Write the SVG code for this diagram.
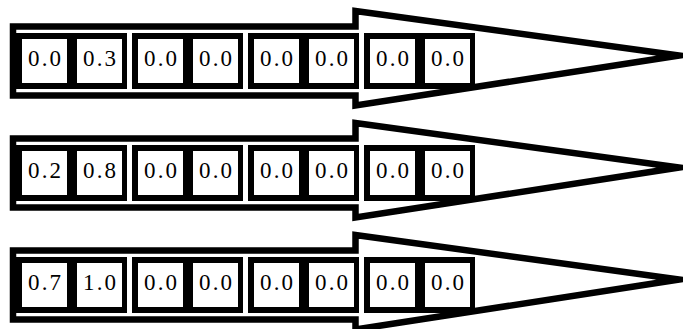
<svg xmlns="http://www.w3.org/2000/svg" xmlns:xlink="http://www.w3.org/1999/xlink" width="683" height="329" viewBox="0 0 683 329">
<style>
.arrow{fill:#fff;stroke:#000;stroke-width:6.5;stroke-linejoin:miter;stroke-miterlimit:10}
.grp{fill:#000}
.cell{fill:#fff}
.v{font-family:"Liberation Serif","Times New Roman",serif;font-size:23px;fill:#000;text-anchor:middle}
</style>
<defs>
<path id="arrowShape" class="arrow" d="M13,26.5 H355.5 V11 L679,55.5 L355.5,105.5 V95.5 H13 Z"/>
<g id="pair">
<rect class="grp" x="0" y="33" width="111" height="56"/>
<rect class="cell" x="6" y="39" width="45" height="44"/>
<rect class="cell" x="61" y="39" width="45" height="44"/>
</g>
</defs>
<rect width="683" height="329" fill="#fff"/>

<g id="row1">
<use xlink:href="#arrowShape"/>
<use xlink:href="#pair" x="16"/>
<use xlink:href="#pair" x="132"/>
<use xlink:href="#pair" x="248"/>
<use xlink:href="#pair" x="364"/>
<g class="v">
<text x="44.5" y="66" textLength="33" lengthAdjust="spacing">0.0</text>
<text x="99.5" y="66" textLength="33" lengthAdjust="spacing">0.3</text>
<text x="160.5" y="66" textLength="33" lengthAdjust="spacing">0.0</text>
<text x="215.5" y="66" textLength="33" lengthAdjust="spacing">0.0</text>
<text x="276.5" y="66" textLength="33" lengthAdjust="spacing">0.0</text>
<text x="331.5" y="66" textLength="33" lengthAdjust="spacing">0.0</text>
<text x="392.5" y="66" textLength="33" lengthAdjust="spacing">0.0</text>
<text x="447.5" y="66" textLength="33" lengthAdjust="spacing">0.0</text>
</g>
</g>

<g id="row2" transform="translate(0,112)">
<use xlink:href="#arrowShape"/>
<use xlink:href="#pair" x="16"/>
<use xlink:href="#pair" x="132"/>
<use xlink:href="#pair" x="248"/>
<use xlink:href="#pair" x="364"/>
<g class="v">
<text x="44.5" y="66" textLength="33" lengthAdjust="spacing">0.2</text>
<text x="99.5" y="66" textLength="33" lengthAdjust="spacing">0.8</text>
<text x="160.5" y="66" textLength="33" lengthAdjust="spacing">0.0</text>
<text x="215.5" y="66" textLength="33" lengthAdjust="spacing">0.0</text>
<text x="276.5" y="66" textLength="33" lengthAdjust="spacing">0.0</text>
<text x="331.5" y="66" textLength="33" lengthAdjust="spacing">0.0</text>
<text x="392.5" y="66" textLength="33" lengthAdjust="spacing">0.0</text>
<text x="447.5" y="66" textLength="33" lengthAdjust="spacing">0.0</text>
</g>
</g>

<g id="row3" transform="translate(0,224)">
<use xlink:href="#arrowShape"/>
<use xlink:href="#pair" x="16"/>
<use xlink:href="#pair" x="132"/>
<use xlink:href="#pair" x="248"/>
<use xlink:href="#pair" x="364"/>
<g class="v">
<text x="44.5" y="66" textLength="33" lengthAdjust="spacing">0.7</text>
<text x="99.5" y="66" textLength="33" lengthAdjust="spacing">1.0</text>
<text x="160.5" y="66" textLength="33" lengthAdjust="spacing">0.0</text>
<text x="215.5" y="66" textLength="33" lengthAdjust="spacing">0.0</text>
<text x="276.5" y="66" textLength="33" lengthAdjust="spacing">0.0</text>
<text x="331.5" y="66" textLength="33" lengthAdjust="spacing">0.0</text>
<text x="392.5" y="66" textLength="33" lengthAdjust="spacing">0.0</text>
<text x="447.5" y="66" textLength="33" lengthAdjust="spacing">0.0</text>
</g>
</g>
</svg>
